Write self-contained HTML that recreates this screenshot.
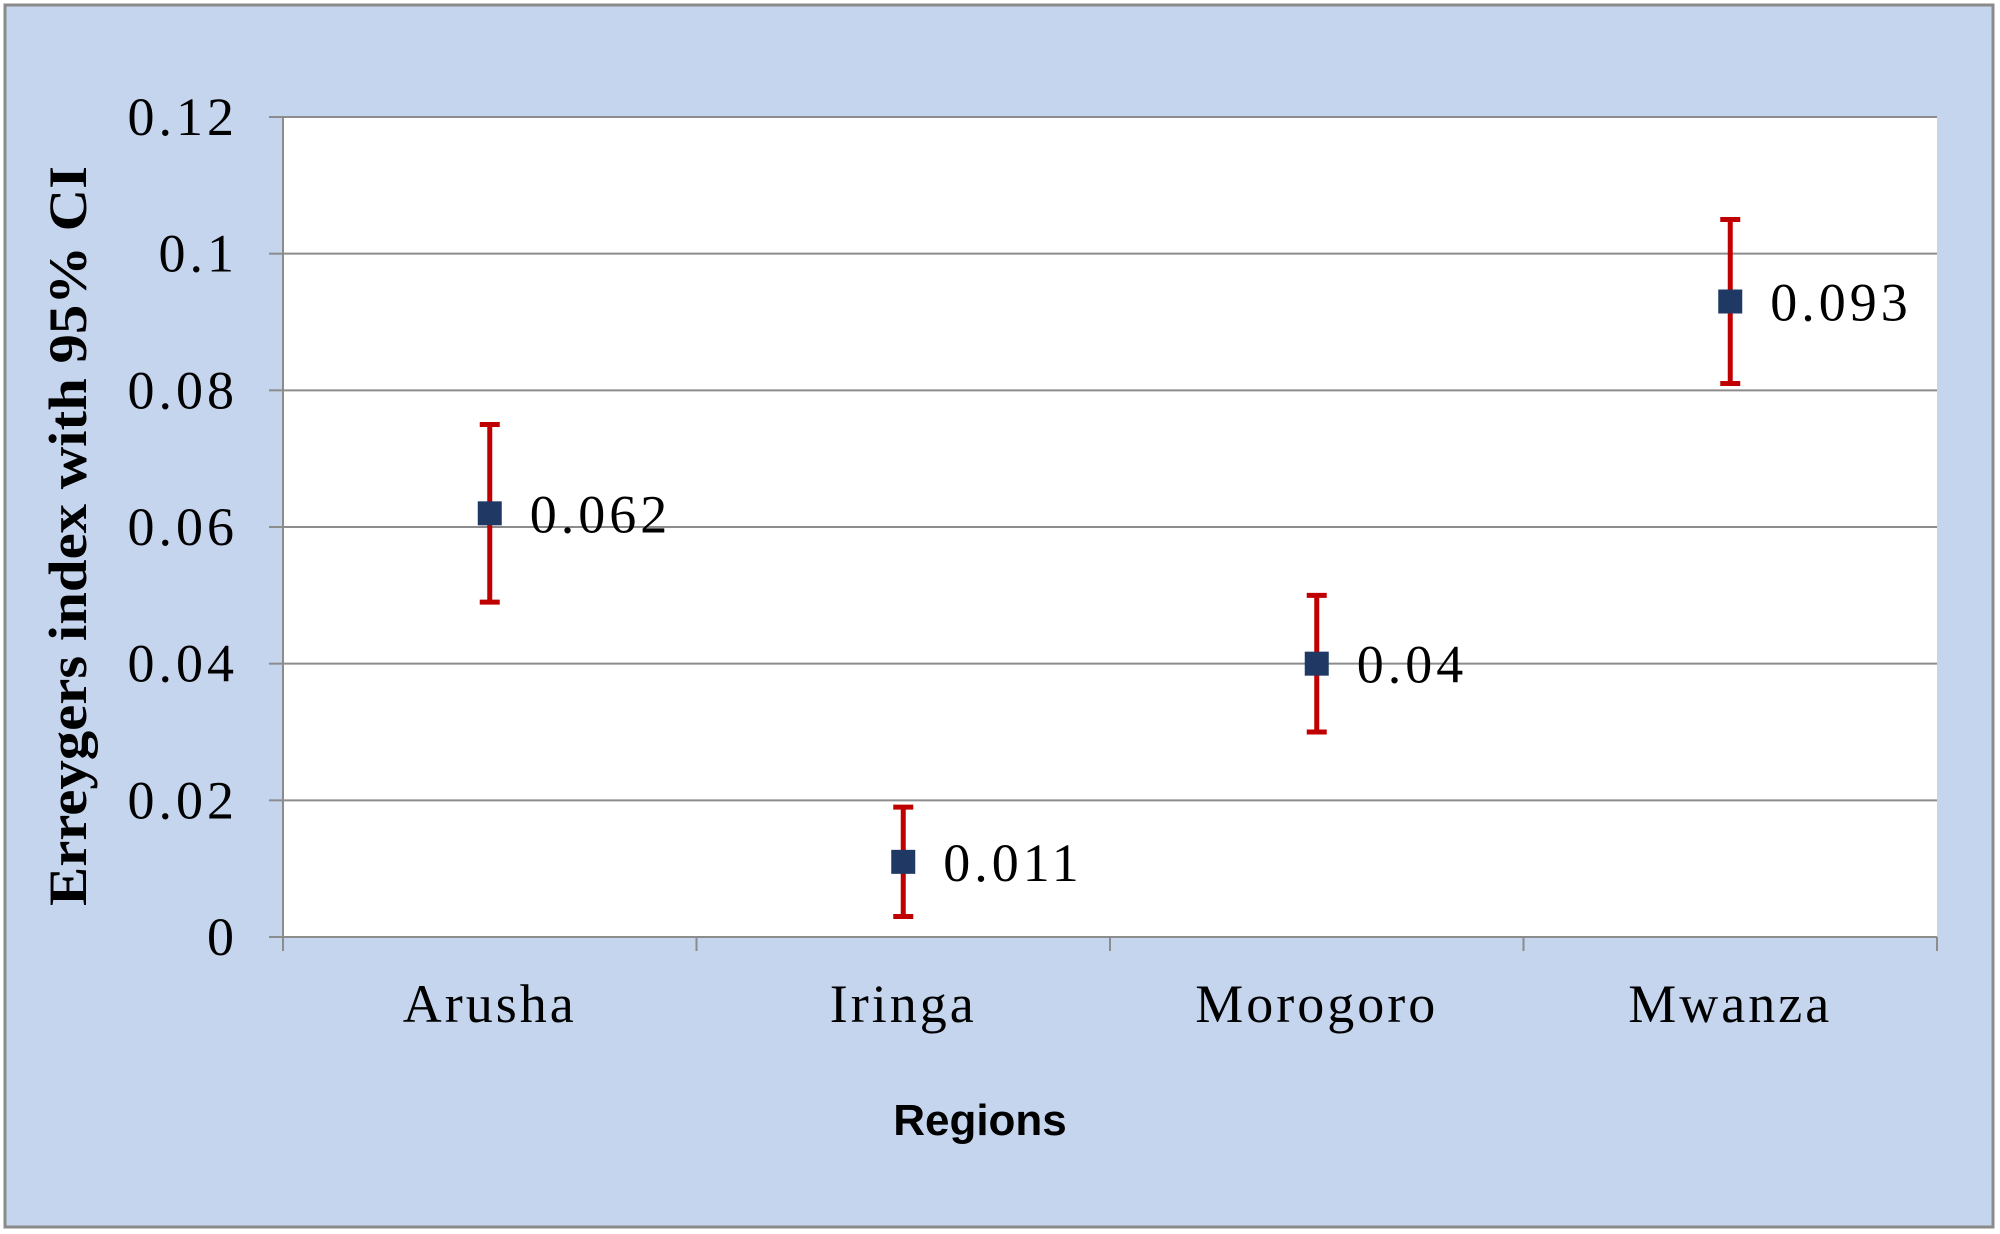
<!DOCTYPE html>
<html><head><meta charset="utf-8"><style>
html,body{margin:0;padding:0;background:#fff;}
svg{display:block;}
</style></head><body>
<svg id="chart" width="2000" height="1234" viewBox="0 0 2000 1234" xmlns="http://www.w3.org/2000/svg">
<rect x="5" y="5" width="1988" height="1222" fill="#c5d5ee" stroke="#8a8a8a" stroke-width="3"/>
<rect x="283" y="117" width="1654" height="820" fill="#ffffff"/>
<g id="grid"></g>
<g id="axes"></g>
<g id="marks"></g>
<text x="86" y="536" transform="rotate(-90 86 536)" text-anchor="middle" textLength="740" lengthAdjust="spacingAndGlyphs" font-family="Liberation Serif, serif" font-weight="bold" font-size="54" fill="#000">Erreygers index with 95% CI</text>
<text x="980" y="1135" text-anchor="middle" font-family="Liberation Sans, sans-serif" font-weight="bold" font-size="44" fill="#000">Regions</text>
</svg>
<script>
const categories = ["Arusha","Iringa","Morogoro","Mwanza"];
const values = [0.062,0.011,0.04,0.093];
const upper = [0.075,0.019,0.05,0.105];
const lower = [0.049,0.003,0.03,0.081];
const valueLabels = ["0.062","0.011","0.04","0.093"];
const yTicks = [0,0.02,0.04,0.06,0.08,0.1,0.12];
const yTickLabels = ["0","0.02","0.04","0.06","0.08","0.1","0.12"];

const NS="http://www.w3.org/2000/svg";
const L=283,R=1937,T=117,B=937,YMAX=0.12;
const y=v=>B-(v/YMAX)*(B-T);
const band=(R-L)/categories.length;
const x=i=>L+band*(i+0.5);
function mk(tag,attrs,parent,text){const e=document.createElementNS(NS,tag);for(const k in attrs)e.setAttribute(k,attrs[k]);if(text!==undefined)e.textContent=text;document.getElementById(parent).appendChild(e);return e;}

yTicks.forEach((t,i)=>{
  if(t>0){const g=mk('line',{x1:L,x2:R,y1:y(t),y2:y(t),stroke:'#8c8c8c','stroke-width':2},'grid');
  
  }
  const tk=mk('line',{x1:L-14,x2:L,y1:y(t),y2:y(t),stroke:'#8c8c8c','stroke-width':2},'axes');
  
  
  const lb=mk('text',{x:L-45,y:y(t)+18,'text-anchor':'end','font-family':'Liberation Serif, serif','font-size':54,'letter-spacing':4,fill:'#000'},'axes',yTickLabels[i]);
  
  
});
const ya=mk('line',{x1:L,x2:L,y1:T,y2:B,stroke:'#8c8c8c','stroke-width':2},'axes');


const xa=mk('line',{x1:L,x2:R,y1:B,y2:B,stroke:'#8c8c8c','stroke-width':2},'axes');


for(let i=0;i<=categories.length;i++){
  const tk=mk('line',{x1:L+band*i,x2:L+band*i,y1:B,y2:B+14,stroke:'#8c8c8c','stroke-width':2},'axes');
  
  
}
categories.forEach((c,i)=>{
  const lb=mk('text',{x:x(i),y:1022,'text-anchor':'middle','font-family':'Liberation Serif, serif','font-size':54,'letter-spacing':3,fill:'#000'},'axes',c);
  
  
  const eb=mk('path',{d:`M${x(i)},${y(upper[i])}V${y(lower[i])}M${x(i)-10},${y(upper[i])}H${x(i)+10}M${x(i)-10},${y(lower[i])}H${x(i)+10}`,stroke:'#c00000','stroke-width':5,fill:'none'},'marks');
  
  
  const m=mk('rect',{x:x(i)-12,y:y(values[i])-12,width:24,height:24,fill:'#1f3864'},'marks');
  
  
  const dl=mk('text',{x:x(i)+40,y:y(values[i])+19,'font-family':'Liberation Serif, serif','font-size':54,'letter-spacing':4,fill:'#000'},'marks',valueLabels[i]);
  
  
});
</script>
</body></html>
